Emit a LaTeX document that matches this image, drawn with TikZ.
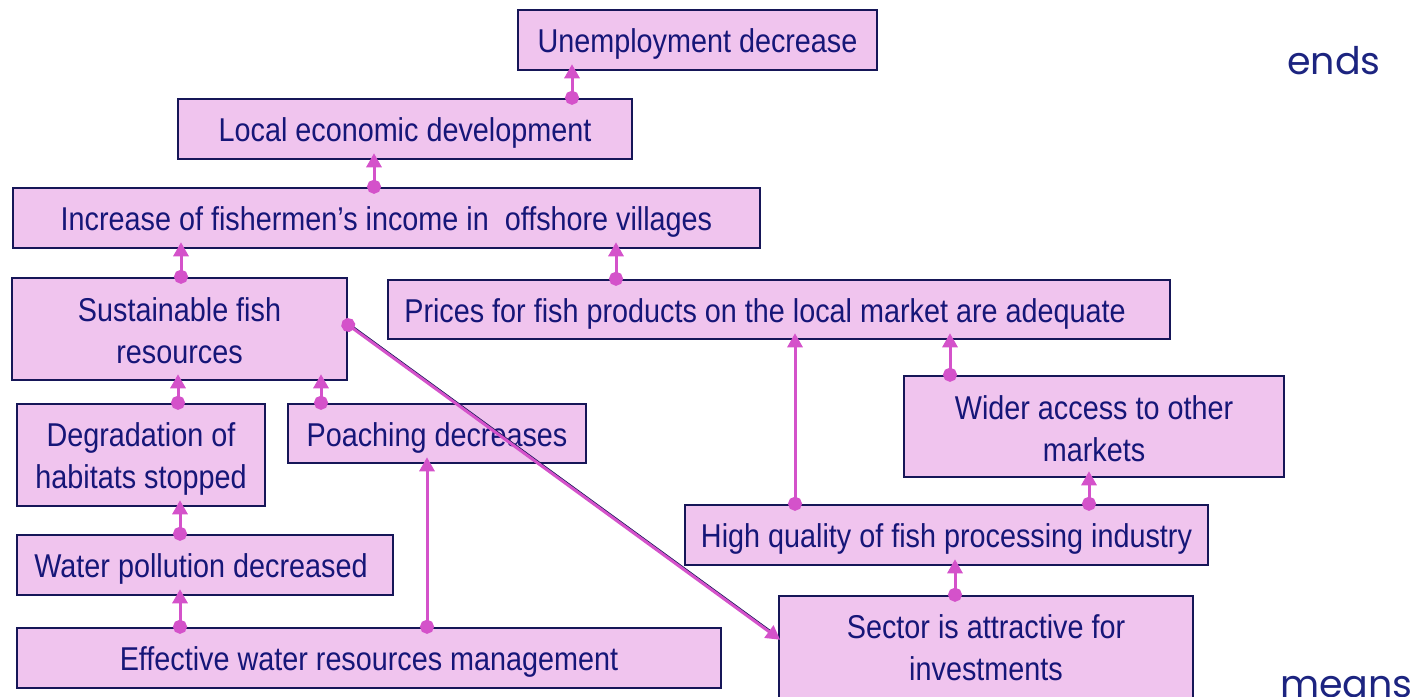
\documentclass[tikz,border=0pt]{standalone}
\usepackage{fontspec}
\setmainfont{Liberation Sans}[FakeStretch=0.872]
\newfontfamily\gothfont{Poppins}
\usetikzlibrary{arrows.meta}
\definecolor{boxfill}{RGB}{240,196,238}
\definecolor{boxline}{RGB}{22,22,88}
\definecolor{boxtext}{RGB}{22,22,120}
\definecolor{conncol}{RGB}{212,82,202}
\definecolor{sidetext}{RGB}{28,36,128}
\tikzset{
  goalbox/.style={draw=boxline, fill=boxfill, line width=2.5, inner sep=0},
  boxlabel/.style={text=boxtext, font=\fontsize{33}{42}\selectfont, align=center,
    inner sep=0, yshift=-4pt},
  conn/.style={draw=conncol, line width=3,
    {Circle[length=14,width=14]}-{Triangle[length=14,width=15]},
    shorten <=-7pt, shorten >=-7pt},
  sidelabel/.style={text=sidetext, font=\gothfont\fontsize{38}{40}\selectfont, inner sep=0}
}
\begin{document}
\begin{tikzpicture}[x=1pt,y=-1pt]
\clip (0,0) rectangle (1416,696);
\useasboundingbox (0,0) rectangle (1416,696);
\node[goalbox, minimum width=359, minimum height=60, label={[boxlabel]center:Unemployment decrease}] (unemp) at (697.5,40) {};
\node[goalbox, minimum width=454, minimum height=60, label={[boxlabel]center:Local economic development}] (local) at (405,129) {};
\node[goalbox, minimum width=747, minimum height=60, label={[boxlabel]center:Increase of fishermen’s income in~ offshore villages}] (income) at (386.5,218) {};
\node[goalbox, minimum width=335, minimum height=102, label={[boxlabel, yshift=2pt]center:Sustainable fish\\resources}] (sust) at (179.5,329) {};
\node[goalbox, minimum width=782, minimum height=59, label={[boxlabel, xshift=-14pt]center:Prices for fish products on the local market are adequate}] (prices) at (779,309.5) {};
\node[goalbox, minimum width=380, minimum height=101, label={[boxlabel, yshift=2pt]center:Wider access to other\\markets}] (wider) at (1094,426.5) {};
\node[goalbox, minimum width=248, minimum height=102, label={[boxlabel]center:Degradation of\\habitats stopped}] (degr) at (141,455) {};
\node[goalbox, minimum width=298, minimum height=59, label={[boxlabel]center:Poaching decreases}] (poach) at (437,433.5) {};
\node[goalbox, minimum width=523, minimum height=60, label={[boxlabel]center:High quality of fish processing industry}] (hq) at (946.5,535) {};
\node[goalbox, minimum width=376, minimum height=60, label={[boxlabel, xshift=-4pt]center:Water pollution decreased}] (water) at (205,565) {};
\node[goalbox, minimum width=704, minimum height=60, label={[boxlabel]center:Effective water resources management}] (eff) at (369,658) {};
\node[goalbox, minimum width=414, minimum height=104, label={[boxlabel, yshift=4pt]center:Sector is attractive for\\investments}] (sector) at (986,648) {};

\node[sidelabel, anchor=base west] (ends) at (1287,74) {ends};
\node[sidelabel, anchor=base west] (means) at (1280,697) {means};

\draw[conn] (local.north -| 572,0) -- (unemp.south -| 572,0);
\draw[conn] (income.north -| 374,0) -- (local.south -| 374,0);
\draw[conn] (sust.north -| 181,0) -- (income.south -| 181,0);
\draw[conn] (prices.north -| 616,0) -- (income.south -| 616,0);
\draw[conn] (degr.north -| 178,0) -- (sust.south -| 178,0);
\draw[conn] (poach.north -| 321,0) -- (sust.south -| 321,0);
\draw[conn] (water.north -| 180,0) -- (degr.south -| 180,0);
\draw[conn] (eff.north -| 180,0) -- (water.south -| 180,0);
\draw[conn] (eff.north -| 427,0) -- (poach.south -| 427,0);
\draw[conn] (hq.north -| 795,0) -- (prices.south -| 795,0);
\draw[conn] (wider.north -| 950,0) -- (prices.south -| 950,0);
\draw[conn] (hq.north -| 1089,0) -- (wider.south -| 1089,0);
\draw[conn] (sector.north -| 955,0) -- (hq.south -| 955,0);
\draw[boxline, line width=1.2, shorten >=6pt] ([yshift=2]sust.east |- 0,325) -- ([yshift=2]sector.west |- 0,638);
\draw[conn, shorten >=-3pt] (sust.east |- 0,325) -- (sector.west |- 0,638);
\end{tikzpicture}
\end{document}
